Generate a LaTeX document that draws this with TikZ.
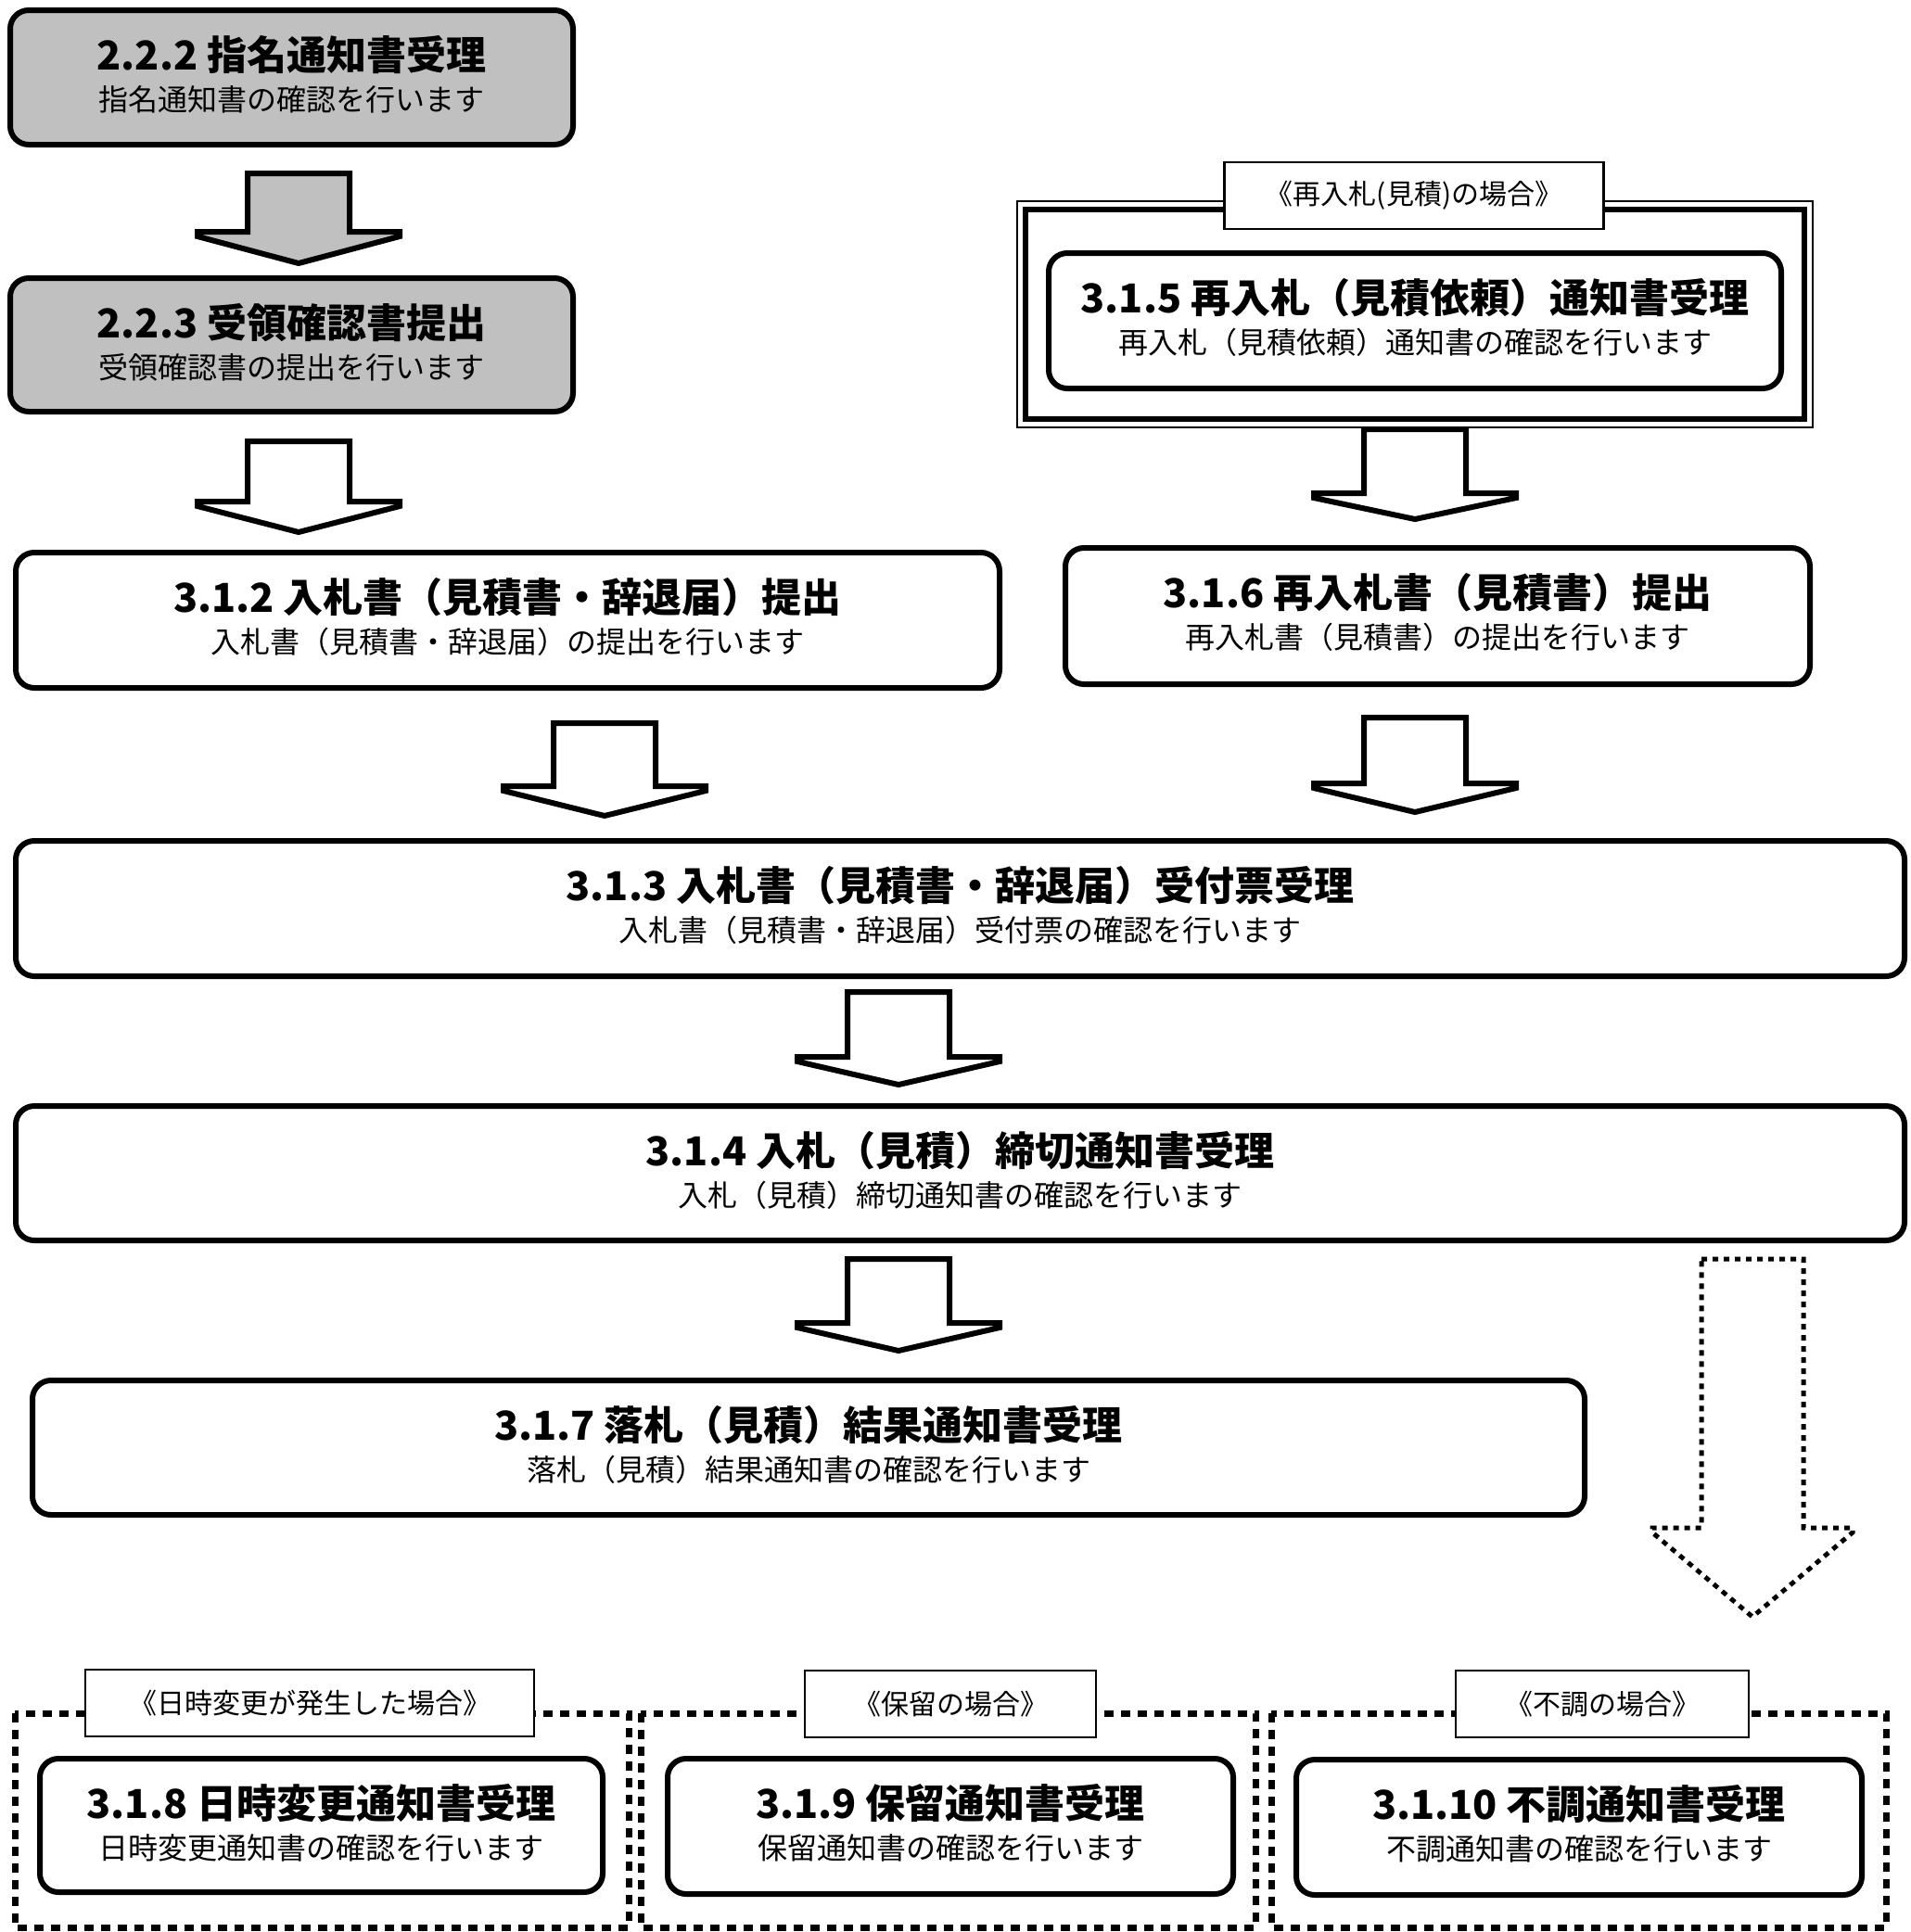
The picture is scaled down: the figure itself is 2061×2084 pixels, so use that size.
\documentclass[tikz,border=0pt]{standalone}
\usepackage{fontspec}
\setmainfont{Noto Sans CJK JP}
\definecolor{boxgray}{HTML}{C0C0C0}
\tikzset{
  pbox/.style={draw=black, line width=3pt, rounded corners=10pt, inner sep=0pt},
  ttl/.style={font=\bfseries\fontsize{21.5}{24}\selectfont, inner sep=0pt},
  subt/.style={font=\fontsize{16}{19}\selectfont, inner sep=0pt},
  lbl/.style={draw=black, line width=1.3pt, fill=white, inner sep=0pt, font=\fontsize{15}{18}\selectfont},
  barr/.style={draw=black, line width=3pt, line join=miter},
  dotarr/.style={draw=black, line width=2.5pt, dash pattern=on 3pt off 3pt},
  dframe/.style={draw=black, line width=3.5pt, dash pattern=on 5pt off 4pt}
}
\newcommand\procbox[8]{%
  \node[pbox, fill=#8, minimum width={(#4-#2)*0.5pt}, minimum height={(#5-#3)*0.5pt}] (#1) at ({(#2+#4)/2},{(#3+#5)/2}) {};
  \node[ttl] (#1t) at ({(#2+#4)/2},{#3+48}) {#6};
  \node[subt] (#1s) at ({(#2+#4)/2},{#3+96}) {#7};
}
\newcommand\blockarrow[6]{% cx, ytop, ywing, ytip, headhalf, style
  \draw[#6] ({#1-55},#2) -- ({#1+55},#2) -- ({#1+55},#3) -- ({#1+#5},#3) -- ({#1+#5},{#3+5}) -- (#1,#4) -- ({#1-#5},{#3+5}) -- ({#1-#5},#3) -- ({#1-55},#3) -- cycle;}
\begin{document}
\begin{tikzpicture}[x=0.5pt, y=-0.5pt]
\useasboundingbox (0,0) rectangle (2061,2084);
\fill[white] (0,0) rectangle (2061,2084);

% left column
\procbox{b222}{11}{11}{618}{156}{2.2.2 指名通知書受理}{指名通知書の確認を行います}{boxgray}
\blockarrow{322}{187}{250}{284}{109}{barr, fill=boxgray}
\procbox{b223}{11}{300}{618}{444}{2.2.3 受領確認書提出}{受領確認書の提出を行います}{boxgray}
\blockarrow{322}{476}{541}{574}{109}{barr, fill=white}
\procbox{b312}{17}{596}{1078}{742}{3.1.2 入札書（見積書・辞退届）提出}{入札書（見積書・辞退届）の提出を行います}{white}
\blockarrow{652}{780}{848}{880}{109}{barr, fill=white}

% right column: re-bid frame
\draw[black, line width=1pt] (1097,217) rectangle (1955,461);
\draw[black, line width=3pt] (1106,226) rectangle (1946,452);
\node[lbl, minimum width={409*0.5pt}, minimum height={72*0.5pt}] (l315) at (1525,211) {《再入札(見積)の場合》};
\procbox{b315}{1131}{273}{1921}{419}{3.1.5 再入札（見積依頼）通知書受理}{再入札（見積依頼）通知書の確認を行います}{white}
\blockarrow{1526}{463}{532}{560}{109}{barr, fill=white}
\procbox{b316}{1149}{591}{1952}{738}{3.1.6 再入札書（見積書）提出}{再入札書（見積書）の提出を行います}{white}
\blockarrow{1526}{774}{845}{876}{109}{barr, fill=white}

% full-width boxes
\procbox{b313}{17}{907}{2054}{1053}{3.1.3 入札書（見積書・辞退届）受付票受理}{入札書（見積書・辞退届）受付票の確認を行います}{white}
\blockarrow{969}{1070}{1140}{1170}{109}{barr, fill=white}
\procbox{b314}{17}{1193}{2054}{1338}{3.1.4 入札（見積）締切通知書受理}{入札（見積）締切通知書の確認を行います}{white}
\blockarrow{969}{1358}{1427}{1457}{109}{barr, fill=white}
\procbox{b317}{35}{1489}{1709}{1634}{3.1.7 落札（見積）結果通知書受理}{落札（見積）結果通知書の確認を行います}{white}

% dotted arrow
\blockarrow{1890}{1358}{1648}{1744}{108}{dotarr}

% bottom frames
\draw[dframe] (16,1848) rectangle (678,2079);
\draw[dframe] (691,1848) rectangle (1354,2079);
\draw[dframe] (1371,1848) rectangle (2034,2079);
\node[lbl, minimum width={484*0.5pt}, minimum height={72*0.5pt}] (l318) at (334,1837) {《日時変更が発生した場合》};
\node[lbl, minimum width={314*0.5pt}, minimum height={72*0.5pt}] (l319) at (1025,1838) {《保留の場合》};
\node[lbl, minimum width={316*0.5pt}, minimum height={72*0.5pt}] (l3110) at (1728,1838) {《不調の場合》};
\procbox{b318}{43}{1897}{650}{2041}{3.1.8 日時変更通知書受理}{日時変更通知書の確認を行います}{white}
\procbox{b319}{720}{1897}{1330}{2043}{3.1.9 保留通知書受理}{保留通知書の確認を行います}{white}
\procbox{b3110}{1398}{1898}{2008}{2044}{3.1.10 不調通知書受理}{不調通知書の確認を行います}{white}
\end{tikzpicture}
\end{document}
